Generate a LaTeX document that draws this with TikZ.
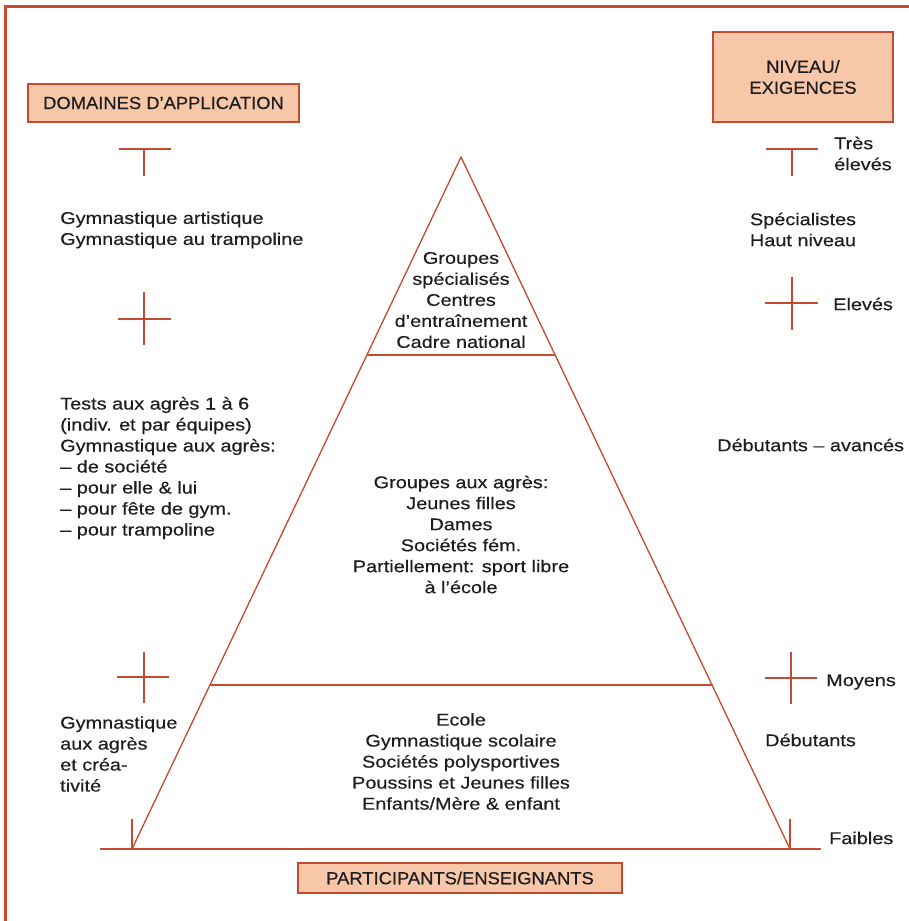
\documentclass[tikz,border=0pt]{standalone}
\usepackage{fontspec}
\setmainfont{Liberation Sans}[FakeStretch=1.17,FakeBold=0.4]
\newfontfamily\labfont{Liberation Sans}[FakeStretch=1.05,FakeBold=0.4]
\definecolor{rline}{HTML}{C54A30}
\definecolor{bfill}{HTML}{F8C7A9}
\definecolor{ink}{HTML}{1E1E1E}
\begin{document}
\begin{tikzpicture}[x=1pt,y=-1pt,
  ln/.style={draw=rline,line width=1.3pt},
  frm/.style={draw=rline,line width=3pt},
  lab/.style={draw=rline,fill=bfill,line width=1.2pt,text=ink,font=\labfont\fontsize{17.5}{21}\selectfont,inner sep=0pt,align=center},
  txt/.style={text=ink,font=\fontsize{17}{21}\selectfont,inner sep=0pt},
  txtl/.style={txt,align=left,anchor=west},
  txtc/.style={txt,align=center}]
\useasboundingbox (0,0) rectangle (908,921);
% frame
\coordinate (f1) at (5,930);
\coordinate (f2) at (5,6);
\coordinate (f3) at (915,6);
\draw[frm] (f1) -- (f2) -- (f3);
% pyramid
\coordinate (apex) at (461,157);
\coordinate (bl) at (132,849);
\coordinate (br) at (790,849);
\coordinate (bl0) at (100,849);
\coordinate (br0) at (821,849);
\coordinate (d1l) at (367,355);
\coordinate (d1r) at (555,355);
\coordinate (d2l) at (210,685);
\coordinate (d2r) at (712,685);
\draw[ln] (bl) -- (apex) -- (br);
\draw[ln] (bl0) -- (br0);
\draw[ln] (d1l) -- (d1r);
\draw[ln] (d2l) -- (d2r);
% bottom ticks
\coordinate (tl) at (132,819);
\coordinate (tr) at (790,819);
\draw[ln] (tl) -- (bl);
\draw[ln] (tr) -- (br);
% T markers
\coordinate (t1a) at (119,149); \coordinate (t1b) at (171,149);
\coordinate (t1c) at (144,149); \coordinate (t1d) at (144,176);
\draw[ln] (t1a) -- (t1b); \draw[ln] (t1c) -- (t1d);
\coordinate (t2a) at (766,149); \coordinate (t2b) at (818,149);
\coordinate (t2c) at (792,149); \coordinate (t2d) at (792,176);
\draw[ln] (t2a) -- (t2b); \draw[ln] (t2c) -- (t2d);
% crosses
\coordinate (c1a) at (118,319); \coordinate (c1b) at (171,319);
\coordinate (c1c) at (144,292); \coordinate (c1d) at (144,345);
\draw[ln] (c1a) -- (c1b); \draw[ln] (c1c) -- (c1d);
\coordinate (c2a) at (765,303); \coordinate (c2b) at (818,303);
\coordinate (c2c) at (792,277); \coordinate (c2d) at (792,330);
\draw[ln] (c2a) -- (c2b); \draw[ln] (c2c) -- (c2d);
\coordinate (c3a) at (117,677); \coordinate (c3b) at (169,677);
\coordinate (c3c) at (144,652); \coordinate (c3d) at (144,703);
\draw[ln] (c3a) -- (c3b); \draw[ln] (c3c) -- (c3d);
\coordinate (c4a) at (765,678); \coordinate (c4b) at (817,678);
\coordinate (c4c) at (791,652); \coordinate (c4d) at (791,704);
\draw[ln] (c4a) -- (c4b); \draw[ln] (c4c) -- (c4d);
% label boxes
\node[lab,minimum width=271,minimum height=38] (dom) at (163.5,103) {DOMAINES D’APPLICATION};
\node[lab,minimum width=180,minimum height=90] (niv) at (803,77) {NIVEAU/\\EXIGENCES};
\node[lab,minimum width=324,minimum height=30] (part) at (460,878) {PARTICIPANTS/ENSEIGNANTS};
% right texts
\node[txtl] (tres) at (834,153.5) {Très\\élevés};
\node[txtc] (spec) at (803,229.5) {Spécialistes\\Haut niveau};
\node[txtl] (elev) at (833,304) {Elevés};
\node[txtl] (deba) at (717,445) {Débutants – avancés};
\node[txtl] (moy) at (826,682) {Moyens};
\node[txtl] (deb) at (765,740) {Débutants};
\node[txtl] (faib) at (829,838) {Faibles};
% left texts
\node[txtl] (gart) at (60,230) {Gymnastique artistique\\Gymnastique au trampoline};
\node[txtl] (tests) at (60,468) {Tests aux agrès 1 à 6\\(indiv. et par équipes)\\Gymnastique aux agrès:\\– de société\\– pour elle \& lui\\– pour fête de gym.\\– pour trampoline};
\node[txtl] (gcre) at (60,754) {Gymnastique\\aux agrès\\et créa-\\tivité};
% pyramid texts
\node[txtc] (top) at (461,300) {Groupes\\spécialisés\\Centres\\d’entraînement\\Cadre national};
\node[txtc] (mid) at (461,534.5) {Groupes aux agrès:\\Jeunes filles\\Dames\\Sociétés fém.\\Partiellement: sport libre\\à l’école};
\node[txtc] (bot) at (461,761.5) {Ecole\\Gymnastique scolaire\\Sociétés polysportives\\Poussins et Jeunes filles\\Enfants/Mère \& enfant};
\end{tikzpicture}
\end{document}
